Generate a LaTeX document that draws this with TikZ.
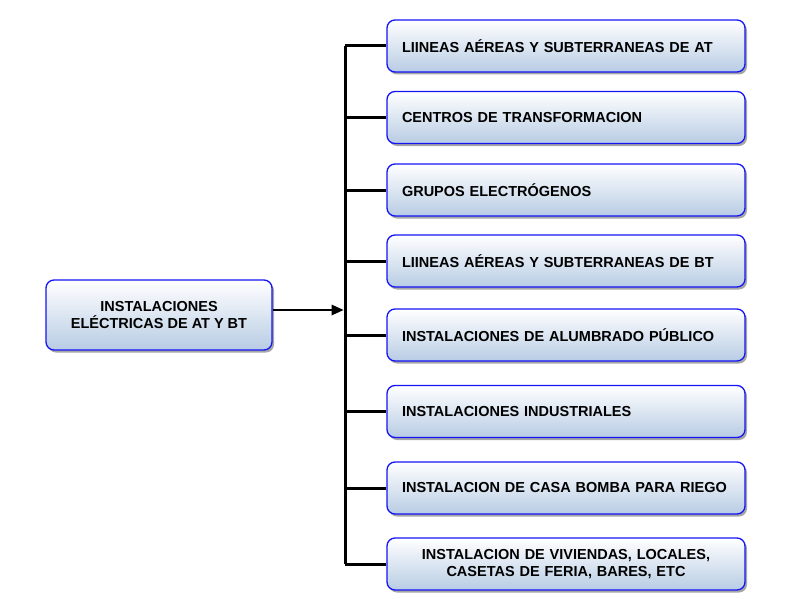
\documentclass[tikz,border=0pt]{standalone}
\usepackage{fontspec}
\setmainfont{Liberation Sans}
\usetikzlibrary{shadows,calc,arrows.meta}
\definecolor{boxblue}{RGB}{20,20,245}
\definecolor{fillbot}{RGB}{184,204,228}
\tikzset{
  box/.style={draw=boxblue, line width=1.3pt, rounded corners=8pt,
    top color=white, bottom color=fillbot, minimum height=52pt,
    font=\bfseries\fontsize{14.5}{17}\selectfont, inner sep=0pt,
    drop shadow={shadow xshift=2pt, shadow yshift=-2.5pt, fill=gray!70, opacity=1}},
  rbox/.style={box, minimum width=358pt, text width=328pt, align=left},
  conn/.style={line width=3pt},
}
\begin{document}
\begin{tikzpicture}[x=1pt,y=1pt]
\useasboundingbox (0,0) rectangle (797,-599);
\node[box, minimum width=226pt, minimum height=70pt, align=center] (L) at (159,-315) {INSTALACIONES\\ELÉCTRICAS DE AT Y BT};
\node[rbox] (b1) at (566,-46) {LIINEAS AÉREAS Y SUBTERRANEAS DE AT};
\node[rbox] (b2) at (566,-117.5) {CENTROS DE TRANSFORMACION};
\node[rbox] (b3) at (566,-190) {GRUPOS ELECTRÓGENOS};
\node[rbox] (b4) at (566,-261) {LIINEAS AÉREAS Y SUBTERRANEAS DE BT};
\node[rbox] (b5) at (566,-335) {INSTALACIONES DE ALUMBRADO PÚBLICO};
\node[rbox] (b6) at (566,-411.5) {INSTALACIONES INDUSTRIALES};
\node[rbox] (b7) at (566,-488) {INSTALACION DE CASA BOMBA PARA RIEGO};
\node[rbox, align=center] (b8) at (566,-564) {INSTALACION DE VIVIENDAS, LOCALES,\\CASETAS DE FERIA, BARES, ETC};
\coordinate (top) at (345,-46);
\draw[conn] (top |- b1.west) -- (top |- b8.west);
\foreach \b in {b1,b2,b3,b4,b5,b6,b7,b8}{
  \draw[conn] (top |- \b.west) -- (\b.west);
}
\draw[line width=2.6pt] ($(L.east)+(0,5)$) -- ($(top |- L.east)+(-10,5)$);
\fill ($(top |- L.east)+(-1.5,5)$) -- ++(-12,5.5) -- ++(0,-11) -- cycle;
\end{tikzpicture}
\end{document}
